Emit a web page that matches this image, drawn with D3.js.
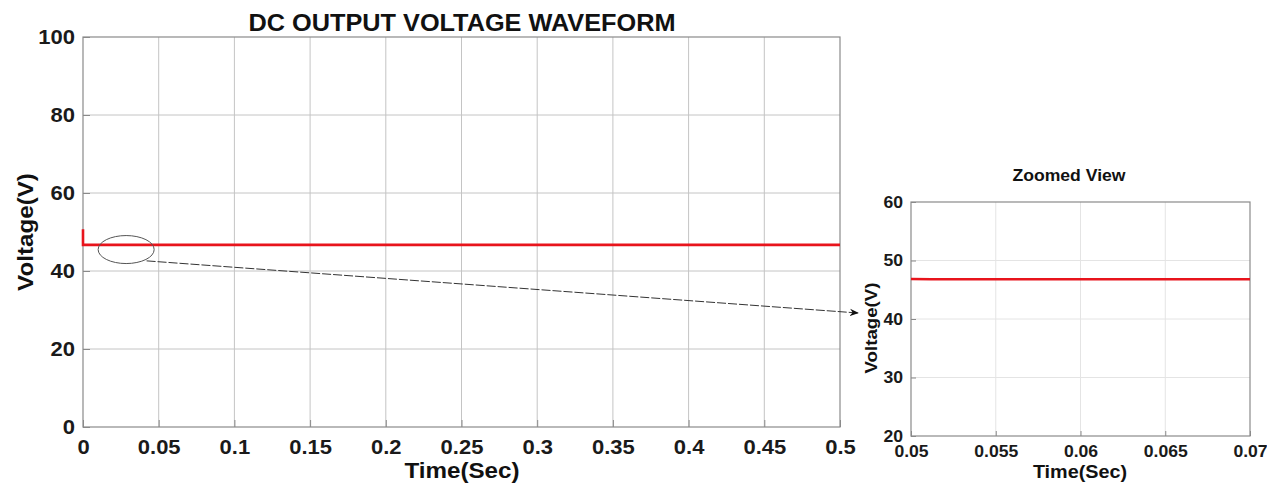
<!DOCTYPE html>
<html>
<head>
<meta charset="utf-8">
<script src="https://cdn.jsdelivr.net/npm/d3@7.9.0/dist/d3.min.js"></script>
<style>
  body { margin: 0; background: #fff; }
  svg { display: block; font-family: "Liberation Sans", Arial, sans-serif; font-weight: bold; }
  .grid line { stroke: #c4c4c4; stroke-width: 1; }
  .zgrid line { stroke: #e4e4e4; stroke-width: 1; }
  .axis path, .axis line { stroke: #8a8a8a; }
</style>
</head>
<body>
<div id="chart"></div>
<script>
// main waveform
const mainTime = [0, 0, 0.5];
const mainVoltage = [50.7, 46.7, 46.7];
const mainXTicks = [0, 0.05, 0.1, 0.15, 0.2, 0.25, 0.3, 0.35, 0.4, 0.45, 0.5];
const mainYTicks = [0, 20, 40, 60, 80, 100];

// zoomed view
const zoomTime = [0.05, 0.0512, 0.07];
const zoomVoltage = [46.85, 46.8, 46.8];
const zoomXTicks = [0.05, 0.055, 0.06, 0.065, 0.07];
const zoomYTicks = [20, 30, 40, 50, 60];

const width = 1267, height = 485;
const stretch = 1.1; // the picture's lettering is a bit wide
const svg = d3.select('#chart').append('svg')
  .attr('width', width).attr('height', height);

function label(x, y, txt, size, rotate) {
  const g = svg.append('g')
    .attr('transform', `translate(${x},${y})` + (rotate ? ' rotate(-90)' : ''));
  g.append('text').attr('text-anchor', 'middle')
    .attr('transform', `scale(${stretch},1)`)
    .style('font-size', size + 'px').attr('fill', '#111').text(txt);
}

function drawPanel(opts) {
  const { x, y, times, volts, xTicks, yTicks, gridClass, tickSize, fontSize, xOff } = opts;
  const g = svg.append('g');
  const [x0, x1] = x.range();
  const [y0, y1] = y.range();

  g.append('g').attr('class', gridClass)
    .selectAll('line.v').data(xTicks.slice(1, -1)).join('line')
    .attr('x1', d => x(d)).attr('x2', d => x(d)).attr('y1', y0).attr('y2', y1);
  g.append('g').attr('class', gridClass)
    .selectAll('line.h').data(yTicks.slice(1, -1)).join('line')
    .attr('x1', x0).attr('x2', x1).attr('y1', d => y(d)).attr('y2', d => y(d));

  g.append('rect')
    .attr('x', x0).attr('y', y1).attr('width', x1 - x0).attr('height', y0 - y1)
    .attr('fill', 'none').attr('stroke', '#8a8a8a').attr('stroke-width', 1.2);

  const xAxis = g.append('g').attr('class', 'axis')
    .attr('transform', `translate(0,${y0})`)
    .call(d3.axisBottom(x).tickValues(xTicks).tickSize(-tickSize).tickSizeOuter(0).tickFormat(d3.format('~g')));
  xAxis.select('.domain').remove();
  xAxis.selectAll('text').attr('dy', null).attr('y', xOff)
    .attr('transform', `scale(${stretch},1)`)
    .style('font-size', fontSize + 'px').attr('fill', '#1a1a1a');

  const yAxis = g.append('g').attr('class', 'axis')
    .attr('transform', `translate(${x0},0)`)
    .call(d3.axisLeft(y).tickValues(yTicks).tickSize(-tickSize).tickSizeOuter(0));
  yAxis.select('.domain').remove();
  yAxis.selectAll('text').attr('x', -8 / stretch)
    .attr('transform', `scale(${stretch},1)`)
    .style('font-size', fontSize + 'px').attr('fill', '#1a1a1a');

  const line = d3.line().x((d, i) => x(times[i])).y(d => y(d));
  g.append('path').datum(volts)
    .attr('d', line)
    .attr('fill', 'none').attr('stroke', '#e8141c').attr('stroke-width', 2.6);
  return g;
}

// main chart
const xMain = d3.scaleLinear().domain([0, 0.5]).range([83, 840]);
const yMain = d3.scaleLinear().domain([0, 100]).range([427, 37]);
drawPanel({ x: xMain, y: yMain, times: mainTime, volts: mainVoltage,
  xTicks: mainXTicks, yTicks: mainYTicks, gridClass: 'grid', tickSize: 7, fontSize: 20, xOff: 27 });

label(462, 31, 'DC OUTPUT VOLTAGE WAVEFORM', 23);
label(462, 478, 'Time(Sec)', 22);
label(33, 232, 'Voltage(V)', 22, true);

// zoomed chart
const xZoom = d3.scaleLinear().domain([0.05, 0.07]).range([911, 1250]);
const yZoom = d3.scaleLinear().domain([20, 60]).range([436, 202]);
drawPanel({ x: xZoom, y: yZoom, times: zoomTime, volts: zoomVoltage,
  xTicks: zoomXTicks, yTicks: zoomYTicks, gridClass: 'zgrid', tickSize: 5, fontSize: 16, xOff: 21 });

label(1069, 181, 'Zoomed View', 16);
label(1080, 478, 'Time(Sec)', 18);
label(877, 328, 'Voltage(V)', 17, true);

// callout ellipse and arrow
svg.append('ellipse')
  .attr('cx', xMain(0.0285)).attr('cy', yMain(45.5)).attr('rx', 28).attr('ry', 14)
  .attr('fill', 'none').attr('stroke', '#555').attr('stroke-width', 1);

svg.append('defs').append('marker')
  .attr('id', 'arrow').attr('viewBox', '0 0 10 10').attr('refX', 9).attr('refY', 5)
  .attr('markerWidth', 9).attr('markerHeight', 9).attr('orient', 'auto')
  .append('path').attr('d', 'M0,1 L10,5 L0,9 L3,5 Z').attr('fill', '#111');

svg.append('line')
  .attr('x1', xMain(0.042)).attr('y1', yMain(42.6))
  .attr('x2', 858).attr('y2', 313)
  .attr('stroke', '#333').attr('stroke-width', 1)
  .attr('stroke-dasharray', '9,2')
  .attr('marker-end', 'url(#arrow)');
</script>
</body>
</html>
